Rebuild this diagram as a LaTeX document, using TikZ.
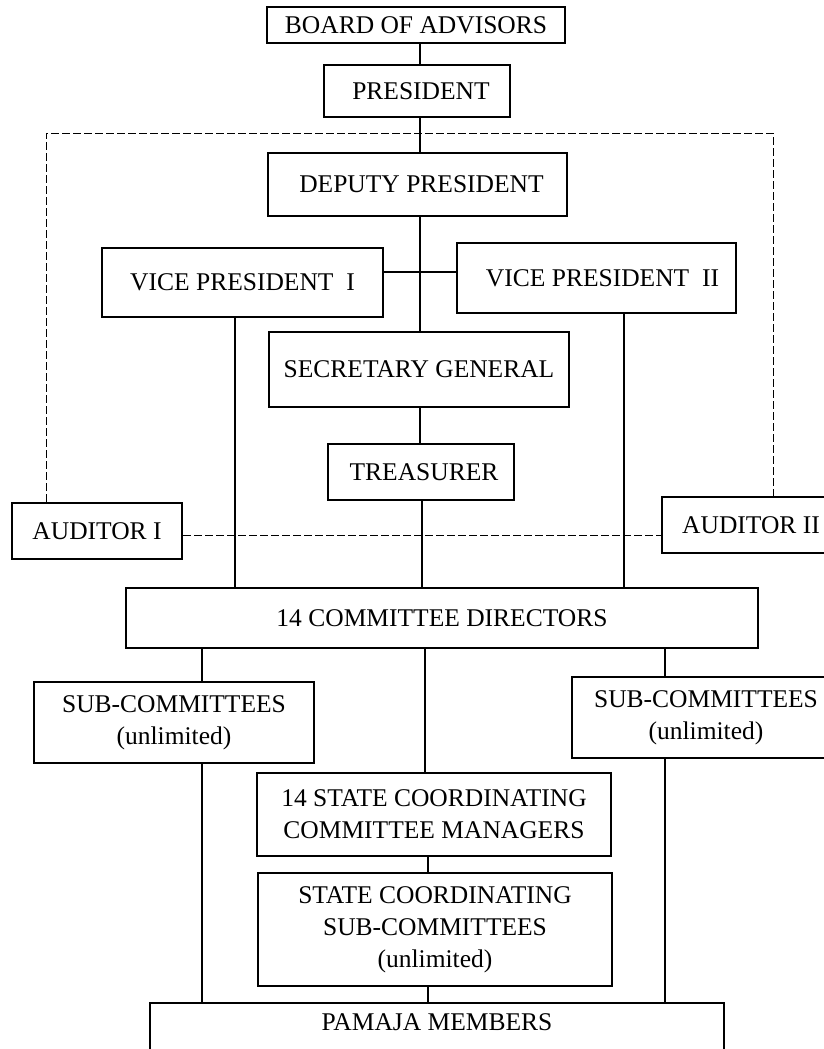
\documentclass[tikz,border=0pt]{standalone}
\usepackage{fontspec}
\setmainfont{Liberation Serif}
\usetikzlibrary{calc}
\tikzset{
  box/.style={draw, line width=2.2pt, inner sep=0pt, align=center,
    font=\fontsize{25.5}{32}\selectfont},
  link/.style={line width=2.8pt},
  dline/.style={line width=0.7pt, dash pattern=on 8pt off 3pt},
}
% \bx{name}{x1}{y1}{x2}{y2}{text}
\newcommand{\bx}[6]{%
  \pgfmathsetmacro{\cx}{(#2+#4)/2}\pgfmathsetmacro{\cy}{(#3+#5)/2}%
  \pgfmathsetmacro{\ww}{#4-#2}\pgfmathsetmacro{\hh}{#5-#3}%
  \node[box, minimum width=\ww pt, minimum height=\hh pt] (#1) at (\cx,\cy) {#6};}
\begin{document}
\begin{tikzpicture}[x=1pt, y=-1pt]
\useasboundingbox (0,0) rectangle (824,1049);
\fill[white] (0,0) rectangle (824,1049);
\bx{board}{267}{7}{565}{43}{BOARD OF ADVISORS}
\bx{pres}{324}{65}{510}{117}{\hspace*{8pt}PRESIDENT}
\bx{dep}{268}{153}{567}{216}{\hspace*{8pt}DEPUTY PRESIDENT}
\bx{vpa}{102}{248}{383}{317}{VICE PRESIDENT\ \ I}
\bx{vpb}{457}{243}{736}{313}{\hspace*{12pt}VICE PRESIDENT\ \ II}
\bx{sec}{269}{332}{569}{407}{SECRETARY GENERAL}
\bx{tre}{328}{444}{514}{500}{\hspace*{6pt}TREASURER}
\bx{audA}{12}{503}{182}{559}{AUDITOR I}
\bx{audB}{662}{497}{840}{553}{AUDITOR II}
\bx{cd}{126}{588}{758}{648}{14 COMMITTEE DIRECTORS}
\bx{subA}{34}{682}{314}{763}{SUB-COMMITTEES\\(unlimited)}
\bx{subB}{572}{677}{840}{758}{SUB-COMMITTEES\\(unlimited)}
\bx{scm}{257}{773}{611}{856}{14 STATE COORDINATING\\COMMITTEE MANAGERS}
\bx{scs}{258}{873}{612}{986}{STATE COORDINATING\\SUB-COMMITTEES\\(unlimited)}
\node[inner sep=0pt, minimum width=574pt, minimum height=38pt,
  font=\fontsize{25.5}{32}\selectfont] (pam) at (437,1022) {PAMAJA MEMBERS};
\draw[line width=2.2pt] ([yshift=-40pt]pam.south west) -- (pam.north west)
  -- (pam.north east) -- ([yshift=-40pt]pam.south east);

\coordinate (tl) at (46,133);
\coordinate (tr) at (773,133);
\coordinate (mid) at (420,535);
\coordinate (vph) at (420,272);

% main spine
\draw[link] (vph |- board.south) -- (vph |- pres.north);
\draw[link] (vph |- pres.south) -- (vph |- dep.north);
\draw[link] (vph |- dep.south) -- (vph |- sec.north);
\draw[link] (vpa.east |- vph) -- (vpb.west |- vph);
\draw[link] (vph |- sec.south) -- (vph |- tre.north);
\coordinate (t1) at (422,0);
\draw[link] (tre.south -| t1) -- (cd.north -| t1);
% vice presidents to directors
\coordinate (v1) at (235,0);
\coordinate (v2) at (624,0);
\draw[link] (vpa.south -| v1) -- (cd.north -| v1);
\draw[link] (vpb.south -| v2) -- (cd.north -| v2);
% directors downwards
\coordinate (d1) at (202,0);
\coordinate (d2) at (425,0);
\coordinate (d3) at (665,0);
\coordinate (e2) at (428,0);
\draw[link] (cd.south -| d1) -- (subA.north -| d1);
\draw[link] (cd.south -| d2) -- (scm.north -| d2);
\draw[link] (cd.south -| d3) -- (subB.north -| d3);
\draw[link] (subA.south -| d1) -- (pam.north -| d1);
\draw[link] (subB.south -| d3) -- (pam.north -| d3);
\draw[link] (scm.south -| e2) -- (scs.north -| e2);
\draw[link] (scs.south -| e2) -- (pam.north -| e2);
% auditors (dashed)
\draw[dline] (audA.north -| tl) -- (tl) -- (tr) -- (audB.north -| tr);
\draw[dline] (audA.east |- mid) -- (audB.west |- mid);
\end{tikzpicture}
\end{document}
